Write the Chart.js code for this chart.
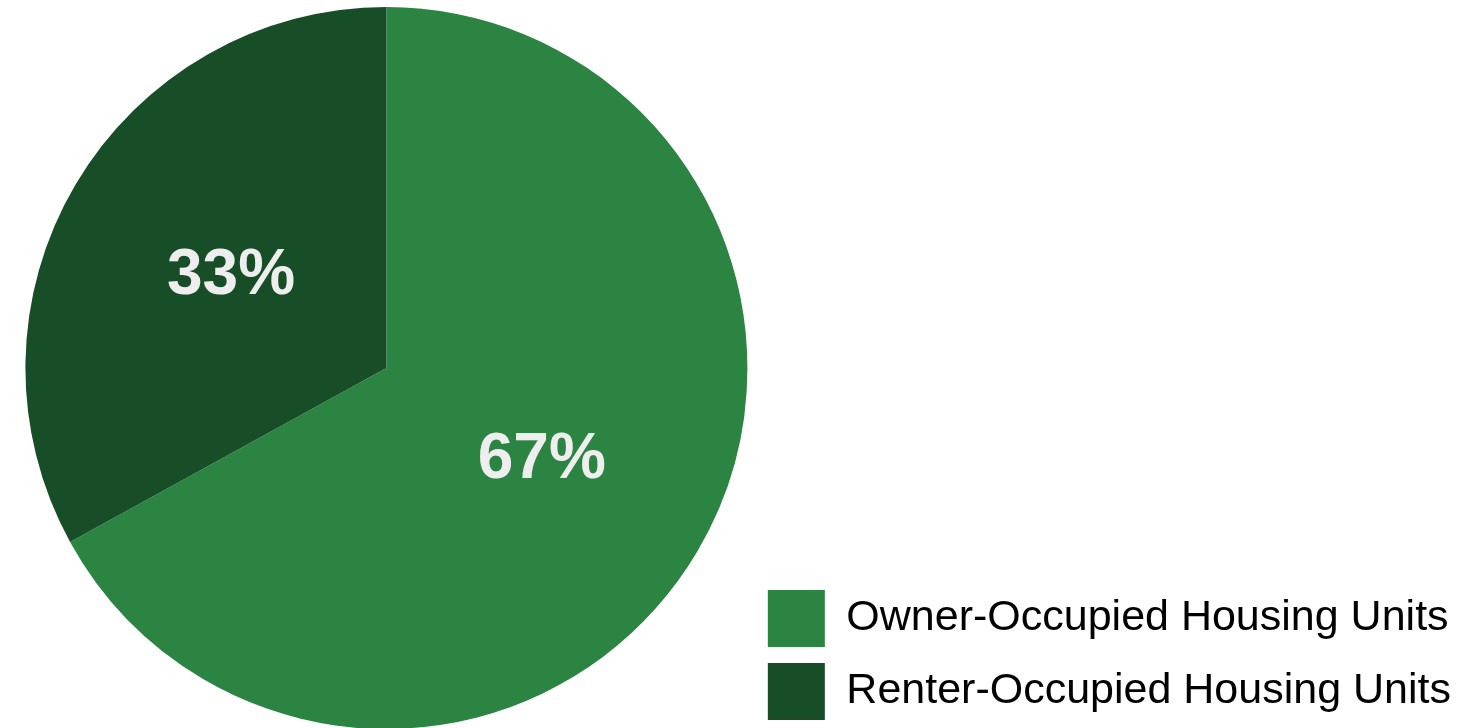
<!DOCTYPE html>
<html>
<head>
<meta charset="utf-8">
<title>Housing Units by Tenure</title>
<script src="https://cdn.jsdelivr.net/npm/chart.js@4.4.1/dist/chart.umd.min.js"></script>
<style>
  html, body { margin: 0; padding: 0; background: #ffffff; overflow: hidden; }
  #wrap { position: relative; width: 1478px; height: 736px; }
</style>
</head>
<body>
<div id="wrap"><canvas id="chart"></canvas></div>
<script>
// Housing tenure shares (percent of occupied units)
const categories = ['Owner-Occupied Housing Units', 'Renter-Occupied Housing Units'];
const shares = [67, 33];
const sliceColors = ['#2b8441', '#174e27'];

// Writes each slice's share on the slice itself
const sliceLabels = {
  id: 'sliceLabels',
  afterDatasetsDraw(chart) {
    const { ctx } = chart;
    const meta = chart.getDatasetMeta(0);
    const values = chart.data.datasets[0].data;
    ctx.save();
    ctx.font = 'bold 64px "Liberation Sans", Arial, sans-serif';
    ctx.fillStyle = '#eeeeee';
    ctx.textAlign = 'center';
    ctx.textBaseline = 'middle';
    meta.data.forEach((arc, i) => {
      const p = arc.tooltipPosition();
      ctx.fillText(values[i] + '%', p.x, p.y);
    });
    ctx.restore();
  }
};

new Chart(document.getElementById('chart'), {
  type: 'pie',
  data: {
    labels: categories,
    datasets: [{
      data: shares,
      backgroundColor: sliceColors,
      borderWidth: 0,
      hoverOffset: 0,
      radius: 361
    }]
  },
  options: {
    responsive: true,
    maintainAspectRatio: false,
    animation: false,
    events: [],
    layout: { padding: { left: 21, right: 17, top: 0, bottom: 0 } },
    plugins: {
      tooltip: { enabled: false },
      legend: {
        position: 'right',
        align: 'end',
        labels: {
          boxWidth: 57,
          boxHeight: 57,
          padding: 16,
          color: '#000000',
          font: { family: '"Liberation Sans", Arial, sans-serif', size: 43 }
        }
      }
    }
  },
  plugins: [sliceLabels]
});
</script>
</body>
</html>
